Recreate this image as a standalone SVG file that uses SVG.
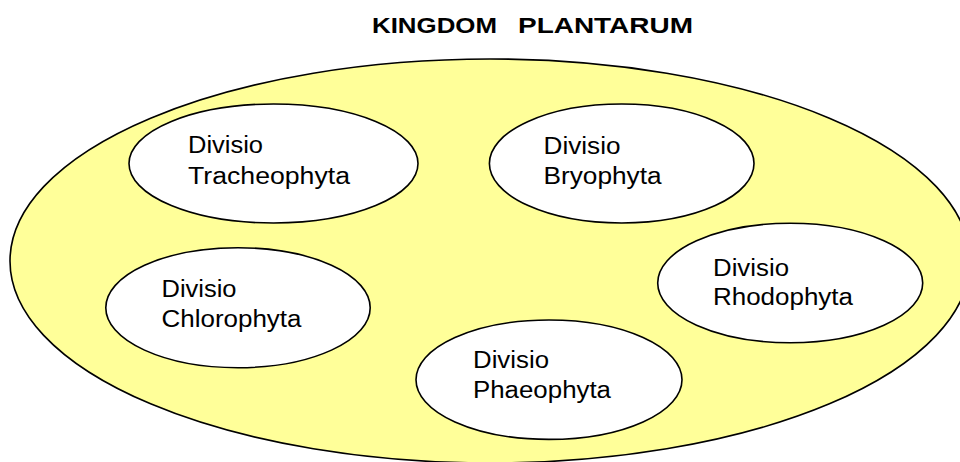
<svg xmlns="http://www.w3.org/2000/svg" width="960" height="462" viewBox="0 0 960 462">
<style>
.bg{fill:#FFFF99;stroke:#000;stroke-width:1.6}
.node{fill:#FFFFFF;stroke:#000;stroke-width:1.6}
.lbl{font-family:"Liberation Sans",Arial,sans-serif;font-size:23.5px;fill:#000}
.title{font-family:"Liberation Sans",Arial,sans-serif;font-size:22.5px;font-weight:bold;fill:#000}
</style>
<rect width="960" height="462" fill="#FFFFFF"/>
<text class="title" y="32.5"><tspan x="372" textLength="125" lengthAdjust="spacingAndGlyphs">KINGDOM</tspan><tspan x="518" textLength="175" lengthAdjust="spacingAndGlyphs">PLANTARUM</tspan></text>
<g id="kingdom">
<ellipse class="bg" cx="490" cy="261" rx="480" ry="202"/>
</g>
<g id="connectors"></g>
<g id="tracheophyta">
<ellipse class="node" cx="273.5" cy="163.5" rx="144.5" ry="59.5"/>
<text class="lbl"><tspan x="188" y="153.3" textLength="75" lengthAdjust="spacingAndGlyphs">Divisio</tspan><tspan x="188" y="184" textLength="162" lengthAdjust="spacingAndGlyphs">Tracheophyta</tspan></text>
</g>
<g id="bryophyta">
<ellipse class="node" cx="621.7" cy="163.5" rx="132.3" ry="59.5"/>
<text class="lbl"><tspan x="543.5" y="153.5" textLength="77" lengthAdjust="spacingAndGlyphs">Divisio</tspan><tspan x="543.5" y="183.5" textLength="118" lengthAdjust="spacingAndGlyphs">Bryophyta</tspan></text>
</g>
<g id="chlorophyta">
<ellipse class="node" cx="238" cy="307.7" rx="132.2" ry="60"/>
<text class="lbl"><tspan x="161.5" y="297.3" textLength="75" lengthAdjust="spacingAndGlyphs">Divisio</tspan><tspan x="161.5" y="326.7" textLength="140" lengthAdjust="spacingAndGlyphs">Chlorophyta</tspan></text>
</g>
<g id="rhodophyta">
<ellipse class="node" cx="790.2" cy="283" rx="132.5" ry="59.7"/>
<text class="lbl"><tspan x="713" y="276" textLength="76" lengthAdjust="spacingAndGlyphs">Divisio</tspan><tspan x="713" y="305" textLength="140" lengthAdjust="spacingAndGlyphs">Rhodophyta</tspan></text>
</g>
<g id="phaeophyta">
<ellipse class="node" cx="549" cy="379.7" rx="133" ry="59.7"/>
<text class="lbl"><tspan x="473" y="368.3" textLength="76" lengthAdjust="spacingAndGlyphs">Divisio</tspan><tspan x="473" y="398.3" textLength="138" lengthAdjust="spacingAndGlyphs">Phaeophyta</tspan></text>
</g>
</svg>
